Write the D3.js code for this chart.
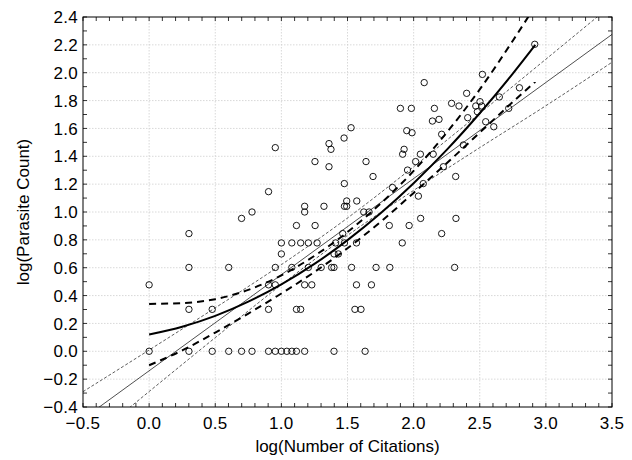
<!DOCTYPE html>
<html>
<head>
<meta charset="utf-8">
<script src="https://cdn.jsdelivr.net/npm/d3@7"></script>
<style>
  html, body { margin: 0; padding: 0; background: #fff; }
  svg { display: block; }
  text { font-family: "Liberation Sans", Arial, sans-serif; fill: #000; }
</style>
</head>
<body>
<svg id="chart" width="632" height="460"></svg>
<script>
// ---------- data ----------
const citations = [
  0, 0.301, 0.477, 0.602, 0.699, 0.778, 0.903, 0.954, 1.0, 1.041, 1.079, 1.114, 1.176, 1.398, 1.633,
  0.301, 0.477, 0.903, 1.114, 1.146, 1.556, 1.602,
  0, 0.903, 0.954, 1.176, 1.230, 1.568, 1.681,
  0.301, 0.602, 0.954, 1.079, 1.204, 1.301, 1.380, 1.398, 1.531, 1.716, 1.820, 2.310,
  1.0, 1.398, 1.431,
  1.0, 1.079, 1.146, 1.204, 1.270, 1.410, 1.477, 1.568, 1.914,
  0.301, 1.464, 2.212,
  1.114, 1.255, 1.816, 1.966,
  0.699, 2.053, 2.320,
  0.778, 1.176, 1.623, 1.663,
  1.176, 1.322, 1.477, 1.494,
  1.494, 1.570,
  2.036, 0.903, 1.840,
  1.476, 2.073,
  1.693, 2.318,
  1.954,
  1.360, 2.225,
  1.254, 1.640, 2.015,
  1.917, 2.051, 2.148,
  1.375, 1.928,
  0.954, 2.376, 1.360, 1.474, 2.212, 1.988, 1.948, 1.527, 2.606, 2.545, 2.142, 2.192, 2.409, 2.482,
  1.900, 1.983, 2.157, 2.719,
  2.343, 2.470, 2.515,
  2.287, 2.502, 2.648, 2.401, 2.800, 2.080, 2.520, 2.916
];
const parasites = [
  0, 0, 0, 0, 0, 0, 0, 0, 0, 0, 0, 0, 0, 0, 0,
  0.301, 0.301, 0.301, 0.301, 0.301, 0.301, 0.301,
  0.477, 0.477, 0.477, 0.477, 0.477, 0.477, 0.477,
  0.602, 0.602, 0.602, 0.602, 0.602, 0.602, 0.602, 0.602, 0.602, 0.602, 0.602, 0.602,
  0.699, 0.699, 0.699,
  0.778, 0.778, 0.778, 0.778, 0.778, 0.778, 0.778, 0.778, 0.778,
  0.845, 0.845, 0.845,
  0.903, 0.903, 0.903, 0.903,
  0.954, 0.954, 0.954,
  1.0, 1.0, 1.0, 1.0,
  1.041, 1.041, 1.041, 1.041,
  1.079, 1.079,
  1.114, 1.146, 1.176,
  1.204, 1.204,
  1.255, 1.255,
  1.301,
  1.325, 1.325,
  1.362, 1.362, 1.362,
  1.415, 1.415, 1.415,
  1.450, 1.450,
  1.462, 1.481, 1.491, 1.531, 1.558, 1.569, 1.584, 1.605, 1.612, 1.648, 1.653, 1.665, 1.677, 1.720,
  1.744, 1.744, 1.744, 1.744,
  1.761, 1.761, 1.761,
  1.780, 1.792, 1.826, 1.852, 1.892, 1.929, 1.988, 2.204
];

// linear fit and its band
const linX = [-0.5, 3.5];
const linFit = [-0.485, 2.275];
const bandX = [-0.5, 0, 0.5, 1, 1.5, 2, 2.5, 3, 3.5];
const linUpper = [-0.29, 0.009, 0.312, 0.622, 0.957, 1.325, 1.708, 2.097, 2.488];
const linLower = [-0.68, -0.289, 0.098, 0.478, 0.832, 1.155, 1.462, 1.763, 2.075];

// quadratic fit and its band
const quadX = [0, 0.25, 0.5, 0.75, 1.0, 1.25, 1.5, 1.75, 2.0, 2.25, 2.5, 2.75, 2.92];
const quadFit = [0.12, 0.176, 0.254, 0.356, 0.48, 0.627, 0.798, 0.991, 1.207, 1.446, 1.709, 1.994, 2.2];
const quadUpper = [0.34, 0.346, 0.374, 0.441, 0.545, 0.685, 0.856, 1.060, 1.295, 1.570, 1.880, 2.230, 2.48];
const quadLower = [-0.10, 0.006, 0.134, 0.271, 0.415, 0.569, 0.740, 0.929, 1.137, 1.350, 1.570, 1.790, 1.935];

const xTicks = [-0.5, 0.0, 0.5, 1.0, 1.5, 2.0, 2.5, 3.0, 3.5];
const yTicks = [-0.4, -0.2, 0.0, 0.2, 0.4, 0.6, 0.8, 1.0, 1.2, 1.4, 1.6, 1.8, 2.0, 2.2, 2.4];
const xTitle = "log(Number of Citations)";
const yTitle = "log(Parasite Count)";

// ---------- layout ----------
const W = 632, H = 460;
const m = { left: 83, right: 20, top: 17, bottom: 53 };
const pw = W - m.left - m.right, ph = H - m.top - m.bottom;

const svg = d3.select("#chart");
const x = d3.scaleLinear().domain([-0.5, 3.5]).range([m.left, m.left + pw]);
const y = d3.scaleLinear().domain([-0.4, 2.4]).range([m.top + ph, m.top]);

const fmt = v => (v < 0 ? "\u2212" : "") + Math.abs(v).toFixed(1);

// grid
const grid = svg.append("g");
grid.selectAll("line.gx").data(xTicks.slice(1, -1)).join("line")
  .attr("x1", d => x(d)).attr("x2", d => x(d))
  .attr("y1", m.top).attr("y2", m.top + ph)
  .attr("stroke", "#cfcfcf").attr("stroke-width", 0.8).attr("stroke-dasharray", "1.5,1.5");
grid.selectAll("line.gy").data(yTicks.slice(1, -1)).join("line")
  .attr("y1", d => y(d)).attr("y2", d => y(d))
  .attr("x1", m.left).attr("x2", m.left + pw)
  .attr("stroke", "#cfcfcf").attr("stroke-width", 0.8).attr("stroke-dasharray", "1.5,1.5");

// clip
svg.append("clipPath").attr("id", "clip").append("rect")
  .attr("x", m.left).attr("y", m.top).attr("width", pw).attr("height", ph);
const plot = svg.append("g").attr("clip-path", "url(#clip)");

const line = d3.line().x(d => x(d[0])).y(d => y(d[1])).curve(d3.curveMonotoneX);
const zip = (a, b) => a.map((v, i) => [v, b[i]]);

// linear band (thin dashed)
[linUpper, linLower].forEach(arr => {
  plot.append("path").datum(zip(bandX, arr)).attr("d", line)
    .attr("fill", "none").attr("stroke", "#333").attr("stroke-width", 0.8)
    .attr("stroke-dasharray", "3,2");
});
// linear fit (thin solid)
plot.append("path").datum(zip(linX, linFit)).attr("d", line)
  .attr("fill", "none").attr("stroke", "#222").attr("stroke-width", 0.8);

// quadratic band (thick dashed)
[quadUpper, quadLower].forEach(arr => {
  plot.append("path").datum(zip(quadX, arr)).attr("d", line)
    .attr("fill", "none").attr("stroke", "#000").attr("stroke-width", 2)
    .attr("stroke-dasharray", "7,5");
});
// quadratic fit (thick solid)
plot.append("path").datum(zip(quadX, quadFit)).attr("d", line)
  .attr("fill", "none").attr("stroke", "#000").attr("stroke-width", 2);

// points
plot.selectAll("circle").data(zip(citations, parasites)).join("circle")
  .attr("cx", d => x(d[0])).attr("cy", d => y(d[1])).attr("r", 3.2)
  .attr("fill", "none").attr("stroke", "#000").attr("stroke-width", 0.9);

// frame
svg.append("rect").attr("x", m.left).attr("y", m.top).attr("width", pw).attr("height", ph)
  .attr("fill", "none").attr("stroke", "#000").attr("stroke-width", 1);

// minor/major ticks, inward on all four sides
const xMinor = d3.range(-5, 36).map(i => i / 10);
const yMinor = d3.range(-4, 25).map(i => i / 10);
const tk = svg.append("g").attr("stroke", "#000").attr("stroke-width", 0.8);
tk.selectAll("line.xb").data(xMinor).join("line")
  .attr("x1", d => x(d)).attr("x2", d => x(d)).attr("y1", m.top + ph).attr("y2", m.top + ph - 4);
tk.selectAll("line.xt").data(xMinor).join("line")
  .attr("x1", d => x(d)).attr("x2", d => x(d)).attr("y1", m.top).attr("y2", m.top + 4);
tk.selectAll("line.yl").data(yMinor).join("line")
  .attr("y1", d => y(d)).attr("y2", d => y(d)).attr("x1", m.left).attr("x2", m.left + 4);
tk.selectAll("line.yr").data(yMinor).join("line")
  .attr("y1", d => y(d)).attr("y2", d => y(d)).attr("x1", m.left + pw).attr("x2", m.left + pw - 4);

// tick labels
svg.append("g").selectAll("text").data(xTicks).join("text")
  .attr("x", d => x(d)).attr("y", 429).attr("text-anchor", "middle")
  .attr("font-size", 17).attr("letter-spacing", 0.3).text(fmt);
svg.append("g").selectAll("text").data(yTicks).join("text")
  .attr("x", 78).attr("y", d => y(d)).attr("dy", "0.36em").attr("text-anchor", "end")
  .attr("font-size", 17).attr("letter-spacing", 0.3).text(fmt);

// titles
svg.append("text").attr("x", m.left + pw / 2).attr("y", 452).attr("text-anchor", "middle")
  .attr("font-size", 17).text(xTitle);
svg.append("text").attr("transform", `translate(29,${m.top + ph / 2}) rotate(-90)`)
  .attr("text-anchor", "middle").attr("font-size", 17).text(yTitle);
</script>
</body>
</html>
